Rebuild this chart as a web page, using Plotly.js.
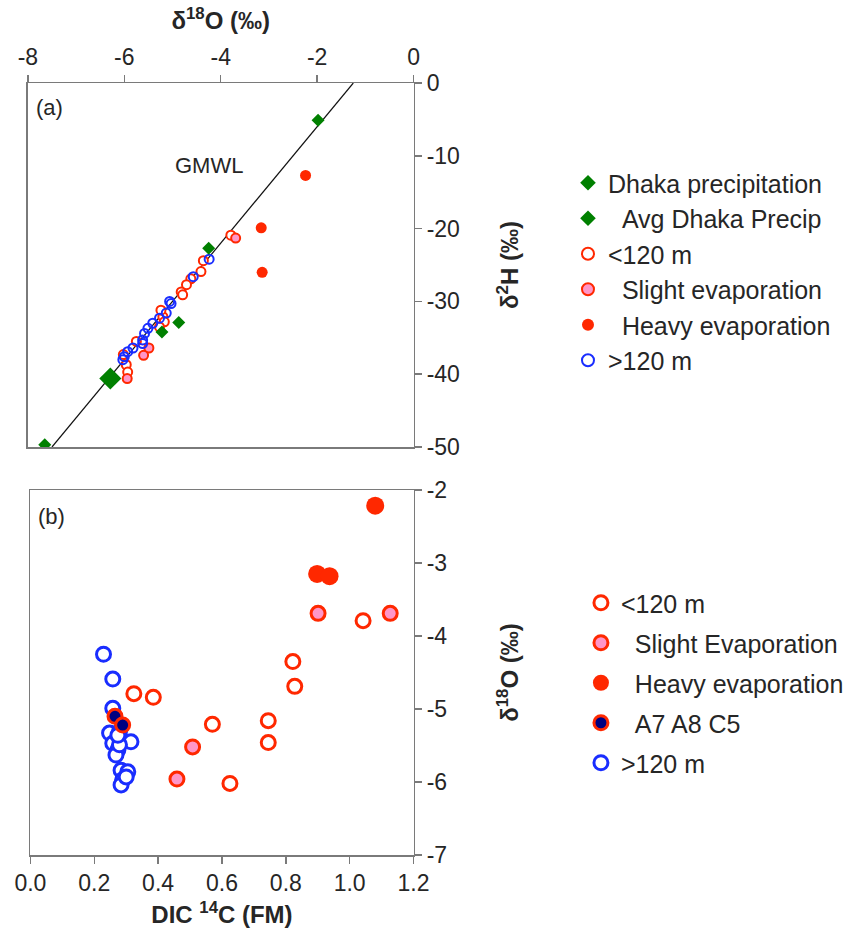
<!DOCTYPE html>
<html>
<head>
<meta charset="utf-8">
<script src="https://cdn.plot.ly/plotly-3.0.1.min.js"></script>
<style>
  html, body { margin: 0; padding: 0; background: #fff; }
  #chart { width: 849px; height: 934px; }
</style>
</head>
<body>
<div id="chart"></div>
<script>
// ---- Panel (a): δ18O vs δ2H ----
const dhakaO = [-1.98, -4.25, -4.87, -5.22, -7.65];
const dhakaH = [-5.1, -22.7, -32.9, -34.2, -49.7];
const avgDhakaO = [-6.29];
const avgDhakaH = [-40.6];
const shallowO = [-3.79, -4.36, -4.41, -4.62, -4.71, -4.82, -4.79, -5.20, -5.17, -5.27, -5.24, -5.75, -6.02, -5.96, -5.93];
const shallowH = [-20.9, -24.4, -25.9, -26.9, -27.7, -28.7, -29.1, -32.1, -32.8, -33.5, -31.2, -35.5, -37.3, -38.7, -39.7];
const slightO = [-3.69, -5.49, -5.60, -5.94];
const slightH = [-21.3, -36.4, -37.4, -40.6];
const heavyO = [-2.24, -3.16, -3.14];
const heavyH = [-12.7, -19.9, -26.0];
const deepO = [-4.24, -4.57, -5.06, -5.03, -5.13, -5.27, -5.41, -5.51, -5.58, -5.62, -5.62, -5.82, -5.93, -6.00, -6.03];
const deepH = [-24.2, -26.6, -30.0, -30.3, -31.6, -32.3, -33.0, -33.7, -34.4, -35.3, -35.8, -36.4, -36.9, -37.6, -38.0];
// Global meteoric water line end points (δ2H = 8·δ18O + 10)
const gmwlO = [-7.5, -1.25];
const gmwlH = [-50, 0];

// ---- Panel (b): DIC 14C vs δ18O ----
const bShallowC = [1.042, 0.822, 0.828, 0.324, 0.385, 0.570, 0.745, 0.745, 0.625];
const bShallowO = [-3.79, -4.35, -4.69, -4.79, -4.84, -5.21, -5.16, -5.46, -6.02];
const bSlightC = [0.901, 1.127, 0.508, 0.459];
const bSlightO = [-3.69, -3.69, -5.52, -5.96];
const bHeavyC = [1.080, 0.898, 0.937];
const bHeavyO = [-2.215, -3.15, -3.18];
const bA7C = [0.265, 0.289];
const bA7O = [-5.10, -5.22];
const bDeepC = [0.229, 0.258, 0.258, 0.248, 0.279, 0.315, 0.258, 0.274, 0.268, 0.279, 0.284, 0.305, 0.289, 0.284, 0.300, 0.274];
const bDeepO = [-4.25, -4.59, -4.99, -5.33, -5.31, -5.45, -5.47, -5.56, -5.63, -5.49, -5.84, -5.86, -5.97, -6.04, -5.93, -5.36];

// ---- Tick labels (plain hyphen minus) ----
const xaTickVals = [-8, -6, -4, -2, 0];
const xaTickText = ['-8', '-6', '-4', '-2', '0'];
const yaTickVals = [0, -10, -20, -30, -40, -50];
const yaTickText = ['0', '-10', '-20', '-30', '-40', '-50'];
const xbTickVals = [0, 0.2, 0.4, 0.6, 0.8, 1.0, 1.2];
const xbTickText = ['0.0', '0.2', '0.4', '0.6', '0.8', '1.0', '1.2'];
const ybTickVals = [-2, -3, -4, -5, -6, -7];
const ybTickText = ['-2', '-3', '-4', '-5', '-6', '-7'];

const RED = 'rgb(255,40,0)';
const BLUE = 'rgb(25,45,255)';
const PINK = 'rgb(255,150,200)';
const GREEN = 'rgb(0,128,0)';
const NAVY = 'rgb(0,0,128)';
const SP = '\u00a0\u00a0';

const traces = [
  // panel (a)
  { x: gmwlO, y: gmwlH, mode: 'lines', line: { color: '#111', width: 1.2 },
    showlegend: false, hoverinfo: 'skip', xaxis: 'x', yaxis: 'y' },
  { name: '<120 m', x: shallowO, y: shallowH, mode: 'markers', legend: 'legend', legendgroup: 'a3', legendrank: 3,
    marker: { symbol: 'circle', size: 9, color: 'white', line: { color: RED, width: 2 } }, xaxis: 'x', yaxis: 'y' },
  { name: SP + 'Slight evaporation', x: slightO, y: slightH, mode: 'markers', legend: 'legend', legendgroup: 'a4', legendrank: 4,
    marker: { symbol: 'circle', size: 9, color: PINK, line: { color: RED, width: 2 } }, xaxis: 'x', yaxis: 'y' },
  { name: SP + 'Heavy evaporation', x: heavyO, y: heavyH, mode: 'markers', legend: 'legend', legendgroup: 'a5', legendrank: 5,
    marker: { symbol: 'circle', size: 11, color: RED, line: { width: 0 } }, xaxis: 'x', yaxis: 'y' },
  { name: '>120 m', x: deepO, y: deepH, mode: 'markers', legend: 'legend', legendgroup: 'a6', legendrank: 6,
    marker: { symbol: 'circle', size: 9, color: 'rgba(255,255,255,0)', line: { color: BLUE, width: 2 } }, xaxis: 'x', yaxis: 'y' },
  { name: 'Dhaka precipitation', x: dhakaO, y: dhakaH, mode: 'markers', legend: 'legend', legendgroup: 'a1', legendrank: 1,
    marker: { symbol: 'diamond', size: 10, color: GREEN, line: { width: 0 } }, xaxis: 'x', yaxis: 'y' },
  { name: SP + 'Avg Dhaka Precip', x: avgDhakaO, y: avgDhakaH, mode: 'markers', legend: 'legend', legendgroup: 'a2', legendrank: 2,
    marker: { symbol: 'diamond', size: 17, color: GREEN, line: { width: 0 } }, xaxis: 'x', yaxis: 'y' },

  // panel (b)
  { name: '>120 m', x: bDeepC, y: bDeepO, mode: 'markers', legend: 'legend2', legendgroup: 'b5', legendrank: 5,
    marker: { symbol: 'circle', size: 14, color: 'white', line: { color: BLUE, width: 3 } }, xaxis: 'x2', yaxis: 'y2' },
  { name: '<120 m', x: bShallowC, y: bShallowO, mode: 'markers', legend: 'legend2', legendgroup: 'b1', legendrank: 1,
    marker: { symbol: 'circle', size: 14, color: 'white', line: { color: RED, width: 3 } }, xaxis: 'x2', yaxis: 'y2' },
  { name: SP + 'Slight Evaporation', x: bSlightC, y: bSlightO, mode: 'markers', legend: 'legend2', legendgroup: 'b2', legendrank: 2,
    marker: { symbol: 'circle', size: 14, color: PINK, line: { color: RED, width: 3 } }, xaxis: 'x2', yaxis: 'y2' },
  { name: SP + 'Heavy evaporation', x: bHeavyC, y: bHeavyO, mode: 'markers', legend: 'legend2', legendgroup: 'b3', legendrank: 3,
    marker: { symbol: 'circle', size: 18, color: RED, line: { width: 0 } }, xaxis: 'x2', yaxis: 'y2' },
  { name: SP + 'A7 A8 C5', x: bA7C, y: bA7O, mode: 'markers', legend: 'legend2', legendgroup: 'b4', legendrank: 4,
    marker: { symbol: 'circle', size: 14, color: NAVY, line: { color: RED, width: 3 } }, xaxis: 'x2', yaxis: 'y2' }
];

const AX = '#7a7a7a';
const TXT = '#262626';
const FONT = 'Liberation Sans, Arial, sans-serif';

const axisCommon = {
  showgrid: false, zeroline: false, showline: true, mirror: true,
  linecolor: AX, linewidth: 1.5, ticks: 'outside', ticklen: 7, tickwidth: 1.5, tickcolor: AX,
  tickmode: 'array', automargin: false,
  tickfont: { family: FONT, size: 23, color: TXT }
};
const titleFont = { family: FONT, size: 24, color: TXT };

const layout = {
  width: 849, height: 934,
  margin: { l: 0, r: 0, t: 0, b: 0 },
  paper_bgcolor: 'white', plot_bgcolor: 'white',
  font: { family: FONT, color: TXT },
  xaxis: Object.assign({}, axisCommon, {
    domain: [28 / 849, 415 / 849], anchor: 'y', side: 'top',
    range: [-8, 0], tickvals: xaTickVals, ticktext: xaTickText,
    title: { text: '<b>δ<sup>18</sup>O (‰)</b>', font: titleFont, standoff: 8 }
  }),
  yaxis: Object.assign({}, axisCommon, {
    domain: [(934 - 447) / 934, (934 - 83) / 934], anchor: 'x', side: 'right',
    range: [-50, 0], tickvals: yaTickVals, ticktext: yaTickText,
    title: { text: '<b>δ<sup>2</sup>H (‰)</b>', font: titleFont, standoff: 42 }
  }),
  xaxis2: Object.assign({}, axisCommon, {
    domain: [30.5 / 849, 415 / 849], anchor: 'y2', side: 'bottom',
    range: [0, 1.2], tickvals: xbTickVals, ticktext: xbTickText,
    title: { text: '<b>DIC <sup>14</sup>C (FM)</b>', font: titleFont, standoff: 11 }
  }),
  yaxis2: Object.assign({}, axisCommon, {
    domain: [(934 - 855) / 934, (934 - 490) / 934], anchor: 'x2', side: 'right',
    range: [-7, -2], tickvals: ybTickVals, ticktext: ybTickText,
    title: { text: '<b>δ<sup>18</sup>O (‰)</b>', font: titleFont, standoff: 55 }
  }),
  legend: {
    x: 570 / 849, xanchor: 'left', y: (934 - 160) / 934, yanchor: 'top',
    bgcolor: 'rgba(0,0,0,0)', borderwidth: 0, tracegroupgap: 0,
    traceorder: 'grouped', itemclick: false, itemsizing: 'constant',
    font: { family: FONT, size: 25, color: TXT }
  },
  legend2: {
    x: 583 / 849, xanchor: 'left', y: (934 - 580) / 934, yanchor: 'top',
    bgcolor: 'rgba(0,0,0,0)', borderwidth: 0, tracegroupgap: 4.5,
    traceorder: 'grouped', itemclick: false,
    font: { family: FONT, size: 25, color: TXT }
  },
  annotations: [
    { text: 'GMWL', xref: 'x', yref: 'y', x: -4.24, y: -11.3, showarrow: false,
      xanchor: 'center', yanchor: 'middle', font: { family: FONT, size: 22, color: TXT } },
    { text: '(a)', xref: 'paper', yref: 'paper', x: 50 / 849, y: (934 - 108) / 934, showarrow: false,
      xanchor: 'center', yanchor: 'middle', font: { family: FONT, size: 22, color: TXT } },
    { text: '(b)', xref: 'paper', yref: 'paper', x: 52 / 849, y: (934 - 516) / 934, showarrow: false,
      xanchor: 'center', yanchor: 'middle', font: { family: FONT, size: 22, color: TXT } }
  ]
};

Plotly.newPlot('chart', traces, layout, { staticPlot: true, displayModeBar: false });
</script>
</body>
</html>
